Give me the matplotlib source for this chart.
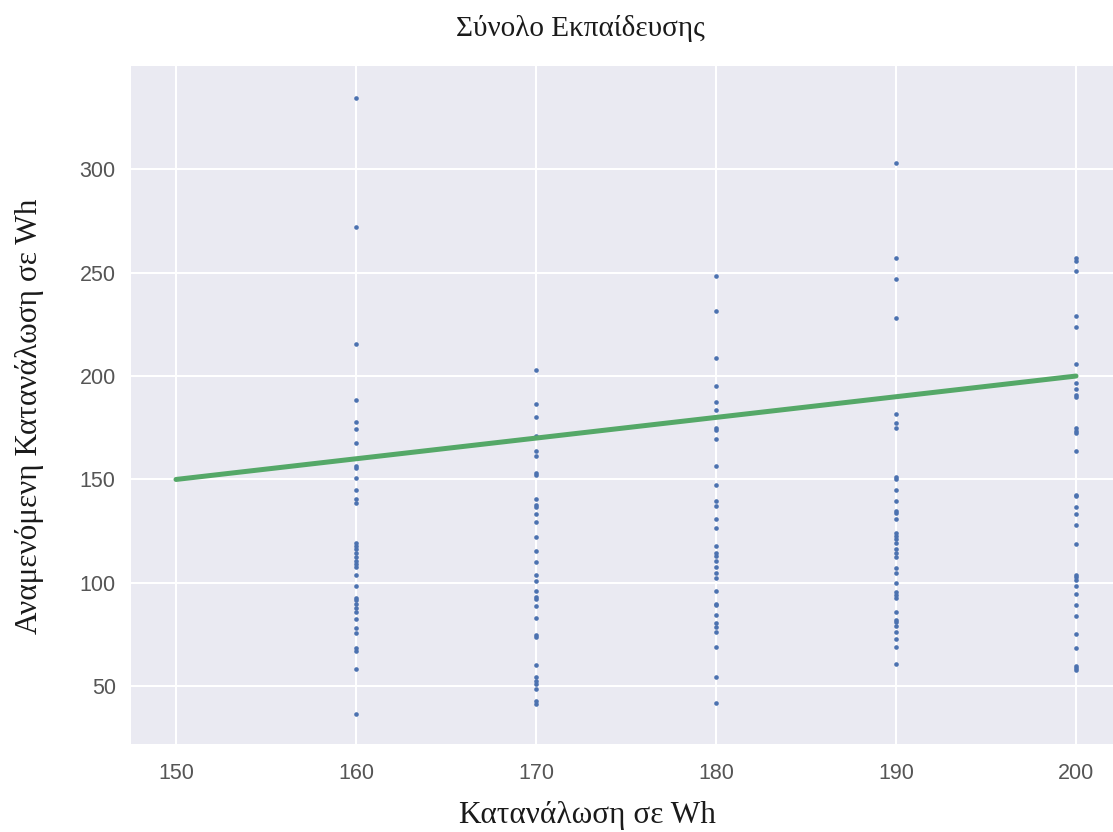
import matplotlib
matplotlib.use("Agg")
import matplotlib.pyplot as plt

# Actual consumption (x) and the corresponding expected consumption values (y)
consumption_160 = [334.3, 272.3, 215.4, 188.4, 178, 174.5, 167.4, 156.3, 155.5, 150.7, 145,
                   140.4, 138.8, 119.2, 118, 116.3, 114.4, 112.5, 110.5, 109.3, 107.6, 104,
                   98.3, 92.5, 91.5, 89.9, 88, 86, 82.3, 78.3, 76, 68.7, 67.1, 58.5, 36.8]
consumption_170 = [202.8, 186.7, 180.3, 171, 163.9, 161.3, 153.3, 152, 140.4, 137.6, 136.6,
                   133.4, 129.4, 122.4, 115.3, 110.2, 104, 100.8, 96, 93.4, 92.2, 88.7, 82.9,
                   74.9, 73.9, 60.1, 54.3, 52.7, 51.1, 48.5, 43, 41.4]
consumption_180 = [248.5, 231.5, 208.9, 195.1, 187.4, 183.5, 174.8, 174, 169.5, 156.5, 147.1,
                   139.8, 137.2, 131.1, 126.6, 117.6, 114.4, 112.8, 110.8, 107.9, 104.7, 102.5,
                   96.3, 89.9, 89.2, 84.7, 80.8, 78.6, 76.4, 69, 54.5, 42]
consumption_190 = [303.2, 256.9, 246.9, 228.2, 181.6, 177.4, 175.1, 151.2, 150.2, 145, 139.5,
                   134.9, 133.6, 130.8, 124.3, 122.7, 121.1, 119.5, 116.3, 114.4, 112.5, 107.3,
                   104.7, 99.9, 95.7, 94.1, 92.5, 86, 82.2, 80.9, 79, 76.4, 72.8, 69, 60.6]
consumption_200 = [257.2, 255.6, 250.8, 229.2, 223.7, 206, 196.4, 193.5, 190.6, 189.8, 175.1,
                   173.6, 172.6, 163.6, 142.7, 142, 136.6, 133.4, 128, 118.6, 104, 102.8, 101.5,
                   98.6, 94.7, 89.2, 83.8, 75.4, 68.3, 60, 59, 57.7]

groups = {160: consumption_160, 170: consumption_170, 180: consumption_180,
          190: consumption_190, 200: consumption_200}

# Ideal prediction line (expected == actual)
ideal_x = [150, 200]
ideal_y = [150, 200]

plt.style.use("seaborn-v0_8")
plt.rcParams["font.family"] = ["Liberation Sans", "DejaVu Sans"]

W, H = 1113, 832
fig = plt.figure(figsize=(W / 100, H / 100), dpi=100)
ax = fig.add_axes([131 / W, 1 - 744 / H, (1121 - 131) / W, (744 - 66) / H])
ax.grid(True, color="white", linewidth=1.5)

xs, ys = [], []
for k, vals in groups.items():
    xs.extend([k] * len(vals))
    ys.extend(vals)

ax.scatter(xs, ys, s=11, color="#4C72B0", linewidths=0, zorder=3)
ax.plot(ideal_x, ideal_y, color="#55A868", linewidth=3.6, solid_capstyle="round", zorder=4)

ax.set_xlim(147.5, 202.5)
ax.set_ylim(22.1, 349.9)
ax.set_xticks([150, 160, 170, 180, 190, 200])
ax.set_yticks([50, 100, 150, 200, 250, 300])
ax.tick_params(labelsize=15.5, colors="#555555")
ax.tick_params(axis="x", pad=14)
ax.tick_params(axis="y", pad=11)

serif = ["Liberation Serif", "DejaVu Serif"]
fig.text(580 / W, 1 - 28 / H, "Σύνολο Εκπαίδευσης", family=serif, fontsize=21,
         ha="center", va="center", color="#1a1a1a")
fig.text(587 / W, 1 - 815 / H, "Κατανάλωση σε Wh", family=serif, fontsize=22.5,
         ha="center", va="center", color="#1a1a1a")
fig.text(30 / W, 1 - 416 / H, "Αναμενόμενη Κατανάλωση σε Wh", family=serif, fontsize=22.5,
         ha="center", va="center", rotation=90, color="#1a1a1a")

fig.savefig("out.png", dpi=100)
